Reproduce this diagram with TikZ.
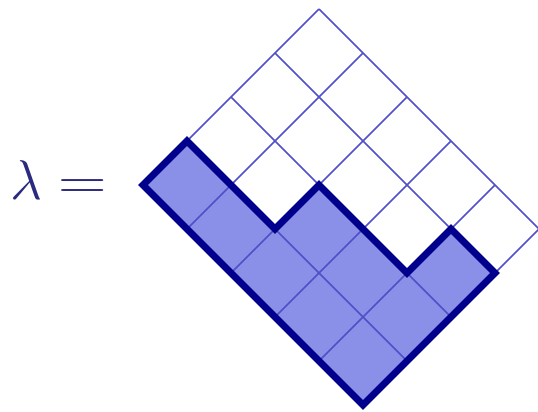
\RequirePackage{fix-cm}
\documentclass[tikz,border=0pt]{standalone}
\usepackage{amsmath}
\usepackage{graphicx}
\usepackage{xcolor}
\definecolor{gridblue}{HTML}{5050C8}
\definecolor{cellfill}{HTML}{8A8FE8}
\definecolor{rimblue}{HTML}{00008C}
\definecolor{labblue}{HTML}{2A2A7E}
\newcommand{\youngrim}{(0,0) -- (-5,5) -- (-4,6) -- (-2,4) -- (-1,5) -- (1,3) -- (2,4) -- (3,3) -- cycle}

\begin{document}
\begin{tikzpicture}[
  x=22pt,y=22pt,
  cellgrid/.style={draw=gridblue,line width=0.8pt},
  rim/.style={draw=rimblue,line width=3.4pt,line join=miter},
  lab/.style={font=\fontsize{28}{32}\selectfont,text=labblue,inner sep=0pt}
]
\useasboundingbox (-8.25,-0.136) rectangle (3.977,9.205);
\fill[cellfill] \youngrim;
\foreach \a in {0,...,4} \draw[cellgrid] (\a,\a) -- ++(-5,5);
\foreach \b in {0,...,5} \draw[cellgrid] (-\b,\b) -- ++(4,4);
\draw[rim] \youngrim;
\node[lab,anchor=base] (lambda) at (-6.92,4.68) {$\lambda \mathrel{\scalebox{1.2}[1]{$=$}}$};
\end{tikzpicture}
\end{document}
